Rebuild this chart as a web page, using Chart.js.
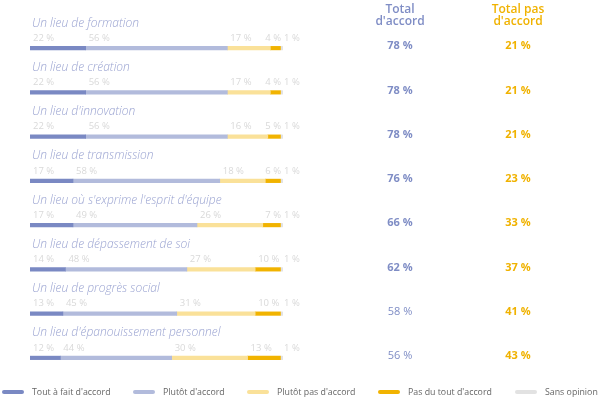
<!DOCTYPE html>
<html><head><meta charset="utf-8">
<script src="https://cdn.jsdelivr.net/npm/chart.js@4"></script>
<style>html,body{margin:0;padding:0;background:#fff;}#wrap{width:600px;height:398px;position:relative;}</style>
</head><body><div id="wrap"><canvas id="c" width="600" height="398"></canvas></div>
<script>
const categories = [
  "Un lieu de formation",
  "Un lieu de création",
  "Un lieu d'innovation",
  "Un lieu de transmission",
  "Un lieu où s'exprime l'esprit d'équipe",
  "Un lieu de dépassement de soi",
  "Un lieu de progrès social",
  "Un lieu d'épanouissement personnel"
];
const seriesNames = ["Tout à fait d'accord", "Plutôt d'accord", "Plutôt pas d'accord", "Pas du tout d'accord", "Sans opinion"];
const toutAFait = [22, 22, 22, 17, 17, 14, 13, 12];
const plutot = [56, 56, 56, 58, 49, 48, 45, 44];
const plutotPas = [17, 17, 16, 18, 26, 27, 31, 30];
const pasDuTout = [4, 4, 5, 6, 7, 10, 10, 13];
const sansOpinion = [1, 1, 1, 1, 1, 1, 1, 1];
const totalAccord = [78, 78, 78, 76, 66, 62, 58, 56];
const totalPasAccord = [21, 21, 21, 23, 33, 37, 41, 43];
const accordBold = [true, true, true, true, true, true, false, false];
const pasAccordBold = [true, true, true, true, true, true, true, true];
const headers = [["Total", "d'accord"], ["Total pas", "d'accord"]];

const colors = ["#7a89c3", "#b2bbdc", "#fae199", "#f1b300", "#e2e2e2"];
const FONT = "'Open Sans', sans-serif";

const overlay = {
  id: 'overlay',
  afterDatasetsDraw(chart) {
    const ctx = chart.ctx;
    ctx.save();
    const metas = chart.data.datasets.map((d, i) => chart.getDatasetMeta(i));
    categories.forEach((cat, j) => {
      const y = metas[0].data[j].y;
      const left = metas[0].data[j].base;
      ctx.font = "italic 300 12px " + FONT;
      ctx.fillStyle = "#9aa3d1";
      ctx.textAlign = "left";
      ctx.textBaseline = "middle";
      ctx.fillText(cat, left + 2, y - 25);
      ctx.font = "400 9.5px " + FONT;
      ctx.fillStyle = "#d9d9d9";
      const n = metas.length;
      const lefts = [], widths = [], texts = [];
      for (let i = 0; i < n; i++) {
        const el = metas[i].data[j];
        const v = chart.data.datasets[i].data[j];
        texts[i] = v + " %";
        widths[i] = ctx.measureText(texts[i]).width;
        lefts[i] = Math.min(el.base, el.x) + 3;
      }
      lefts[n - 1] = metas[n - 1].data[j].x + 1;
      for (let i = n - 2; i >= 0; i--) {
        if (lefts[i] + widths[i] + 3 > lefts[i + 1]) lefts[i] = lefts[i + 1] - 3 - widths[i];
      }
      for (let i = 0; i < n; i++) ctx.fillText(texts[i], lefts[i], y - 10);
      ctx.textAlign = "center";
      ctx.font = (accordBold[j] ? "700 " : "400 ") + "11px " + FONT;
      ctx.fillStyle = "#7f8dc5";
      ctx.fillText(totalAccord[j] + " %", 400, y - 2);
      ctx.font = (pasAccordBold[j] ? "700 " : "400 ") + "11px " + FONT;
      ctx.fillStyle = "#f0b200";
      ctx.fillText(totalPasAccord[j] + " %", 518, y - 2);
    });
    ctx.textAlign = "center";
    ctx.textBaseline = "middle";
    ctx.font = "600 12px " + FONT;
    ctx.fillStyle = "#7f8dc5";
    ctx.fillText(headers[0][0], 400, 10);
    ctx.fillText(headers[0][1], 400, 22);
    ctx.fillStyle = "#f0b200";
    ctx.fillText(headers[1][0], 518, 10);
    ctx.fillText(headers[1][1], 518, 22);
    const lx = [2, 133, 247, 378, 515];
    ctx.font = "400 8.8px " + FONT;
    ctx.textAlign = "left";
    seriesNames.forEach((s, i) => {
      ctx.strokeStyle = colors[i];
      ctx.lineWidth = 4;
      ctx.lineCap = "round";
      ctx.beginPath();
      ctx.moveTo(lx[i] + 2, 392);
      ctx.lineTo(lx[i] + 20, 392);
      ctx.stroke();
      ctx.fillStyle = "#666";
      ctx.fillText(s, lx[i] + 30, 392);
    });
    ctx.restore();
  }
};

const seriesData = [toutAFait, plutot, plutotPas, pasDuTout, sansOpinion];
new Chart(document.getElementById('c'), {
  type: 'bar',
  data: {
    labels: categories,
    datasets: seriesData.map((d, i) => ({
      label: seriesNames[i],
      data: d,
      backgroundColor: colors[i],
      barThickness: 3.5,
      borderRadius: 2,
      borderSkipped: false
    }))
  },
  options: {
    indexAxis: 'y',
    responsive: false,
    animation: false,
    layout: { padding: { left: 30, right: 317, top: 26, bottom: 18 } },
    scales: {
      x: { stacked: true, min: 0, max: 100, display: false },
      y: { stacked: true, display: false }
    },
    plugins: { legend: { display: false }, tooltip: { enabled: false } }
  },
  plugins: [overlay]
});
</script></body></html>
